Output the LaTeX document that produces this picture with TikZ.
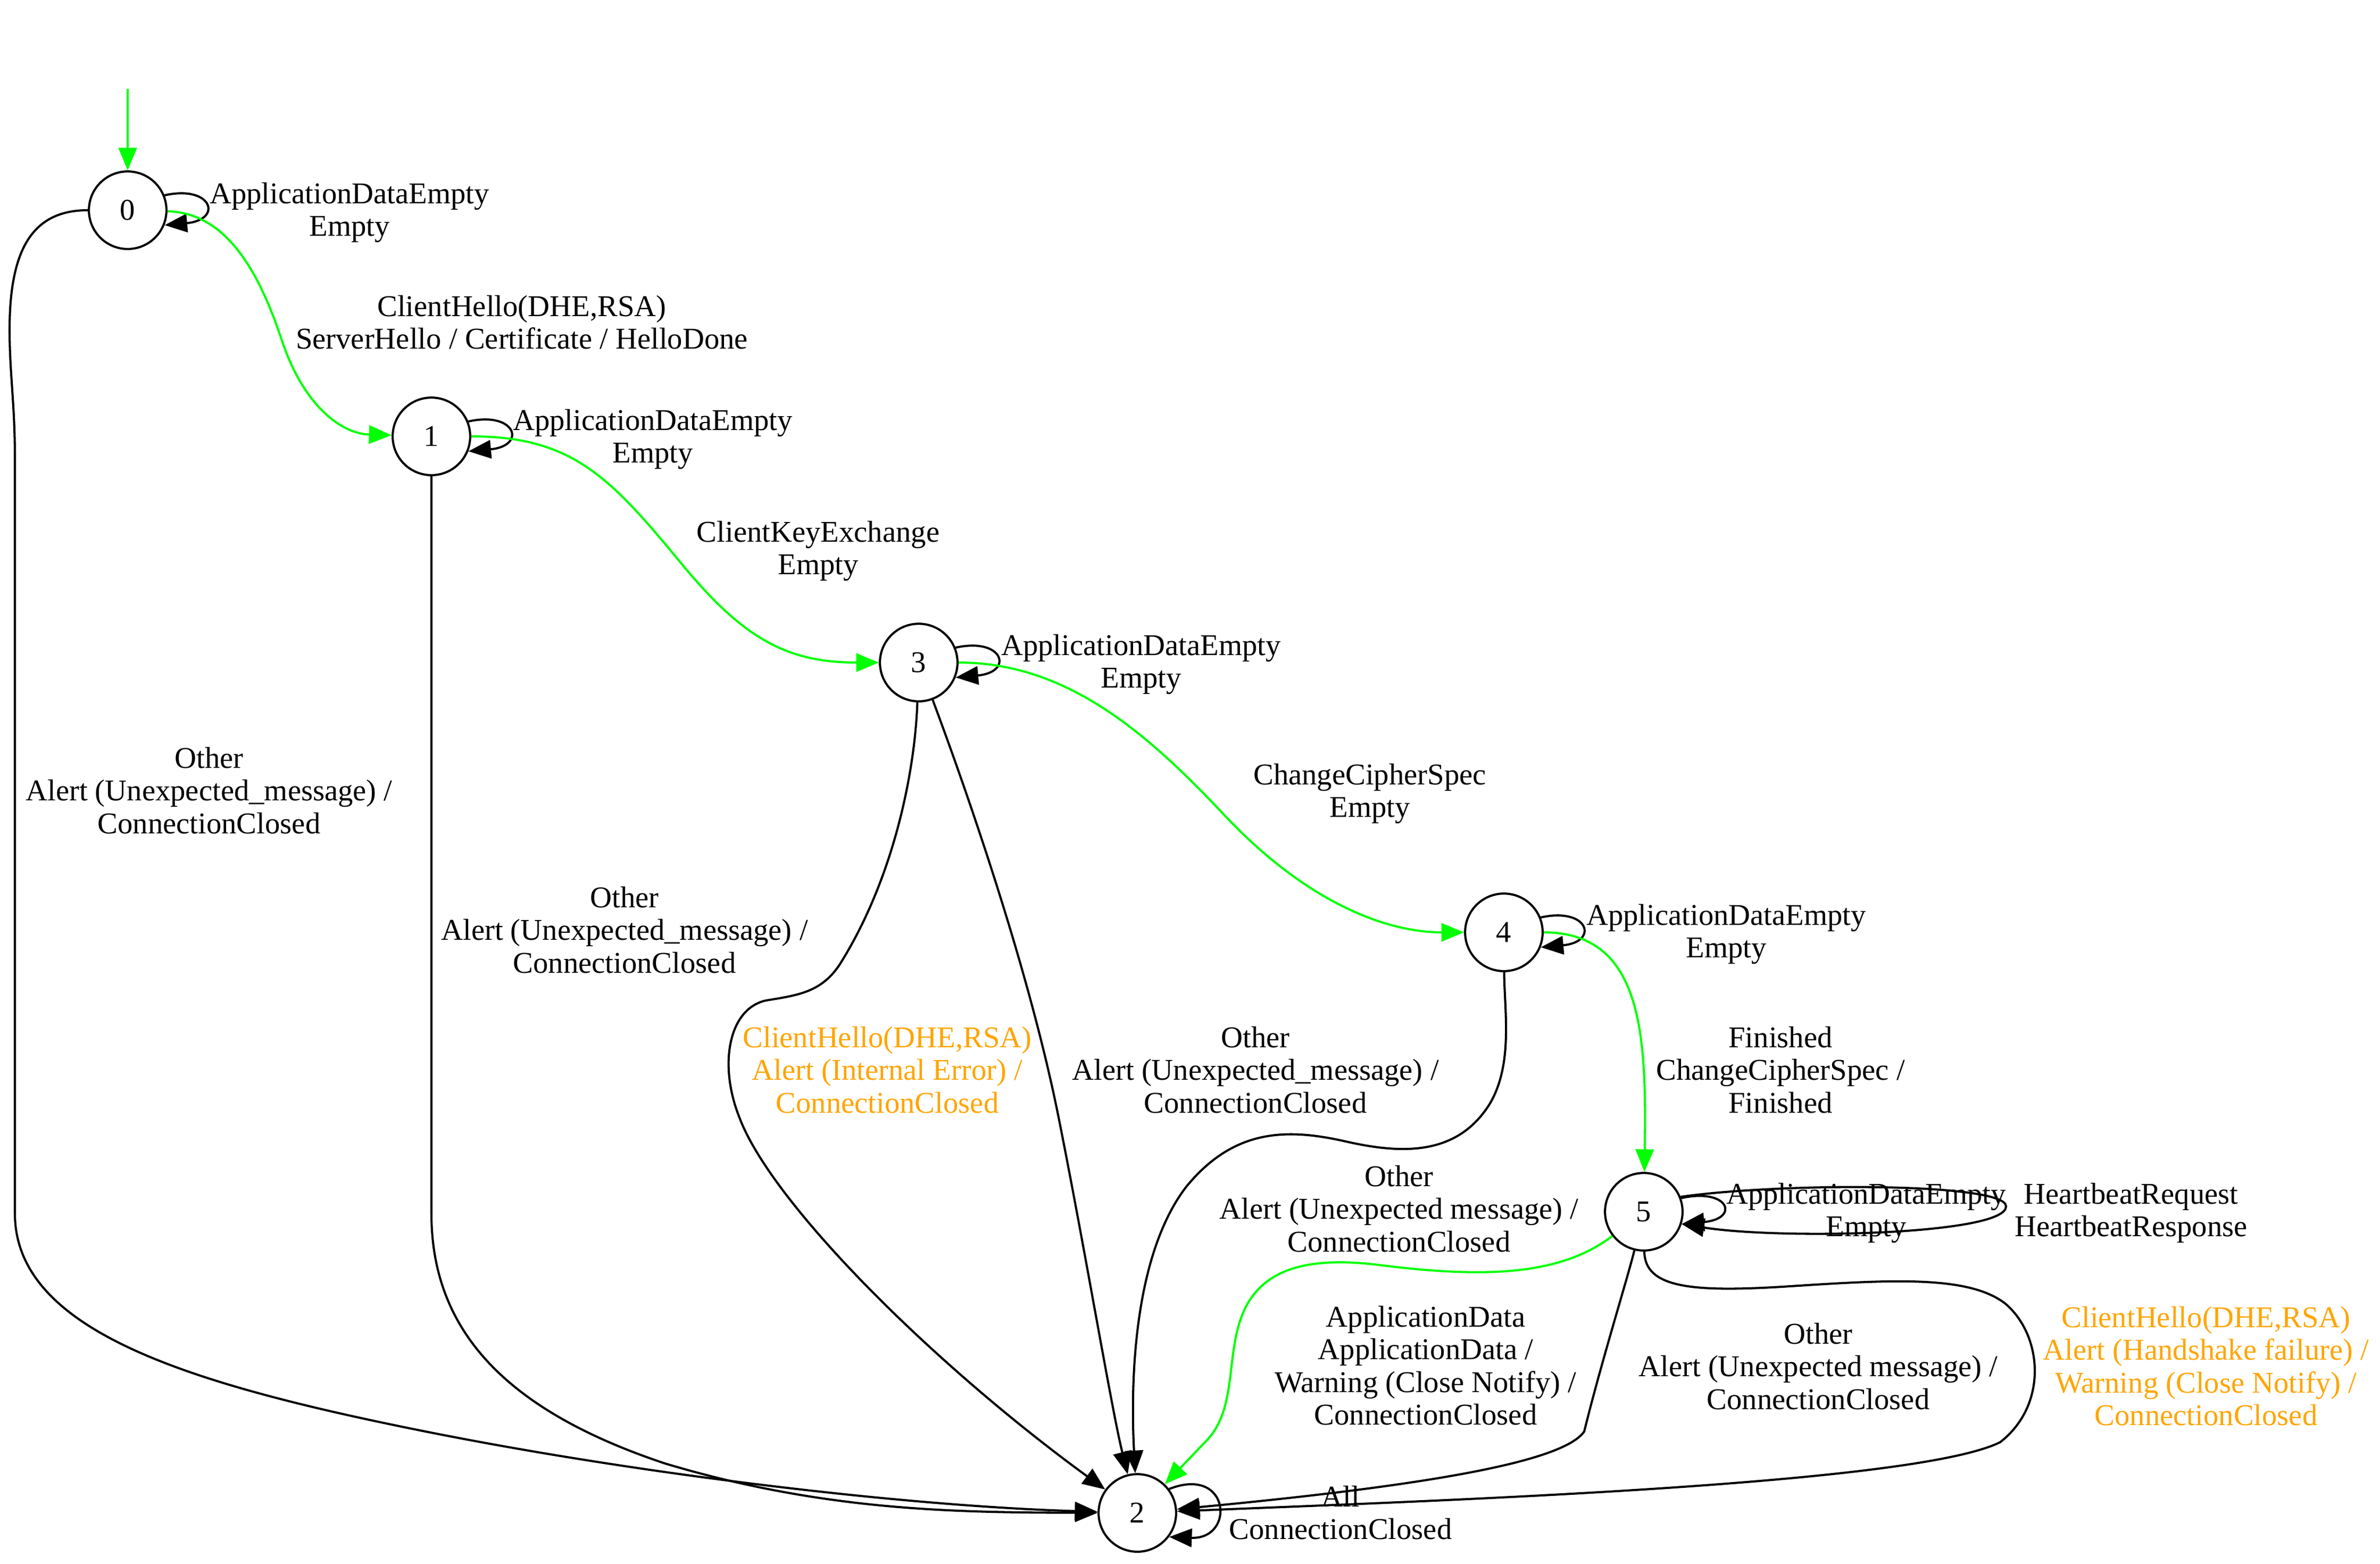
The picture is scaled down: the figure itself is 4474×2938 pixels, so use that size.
\documentclass[tikz,border=0pt]{standalone}
\usepackage{fontspec}
\setmainfont{Liberation Serif}
\usetikzlibrary{arrows.meta}
\definecolor{gvgreen}{RGB}{0,255,0}
\definecolor{gvorange}{RGB}{255,165,0}
\newcommand{\ml}[1]{\begin{tabular}[t]{@{}c@{}}#1\end{tabular}}
\begin{document}
\begin{tikzpicture}[x=0.247pt,y=-0.247pt,
  state/.style={circle,draw,line width=1pt,minimum size=36pt,inner sep=0pt,font=\fontsize{14}{15.2}\selectfont},
  tr/.style={draw,line width=1pt,-{Triangle[length=10.5pt,width=8.5pt]}},
  gtr/.style={tr,draw=gvgreen},
  lab/.style={inner sep=0pt,anchor=base,font=\fontsize{14}{15.2}\selectfont},
  olab/.style={lab,text=gvorange}]
\fill[white] (0,0) rectangle (4474,2938);
\useasboundingbox (0,0) rectangle (4474,2938);

% states
\node[state] (n0) at (240,395) {0};
\node[state] (n1) at (811,820) {1};
\node[state] (n3) at (1727,1245) {3};
\node[state] (n4) at (2827,1752) {4};
\node[state] (n5) at (3090,2277) {5};
\node[state] (n2) at (2138,2843) {2};
\coordinate (start) at (240,167);

% initial arrow
\draw[gtr] (start) -- (n0);

% self loops
\draw[tr] (n0.22) .. controls +(90,-20) and +(110,-10) .. (n0.-22);
\draw[tr] (n1.22) .. controls +(90,-20) and +(110,-10) .. (n1.-22);
\draw[tr] (n3.22) .. controls +(90,-20) and +(110,-10) .. (n3.-22);
\draw[tr] (n4.22) .. controls +(90,-20) and +(110,-10) .. (n4.-22);
\draw[tr] (n5.20) .. controls +(90,-20) and +(110,-10) .. (n5.-18);
\draw[tr] (n5.22) .. controls (3350,2222) and (3771,2222) .. (3771,2267)
                  .. controls (3771,2320) and (3350,2330) .. (n5.-18);
\draw[tr] (n2.37) .. controls +(115,-45) and +(125,5) .. (n2.-37);

% green handshake path
\draw[gtr] (n0) .. controls (430,400) and (490,520) .. (530,640)
               .. controls (570,760) and (640,815) .. (n1);
\draw[gtr] (n1) .. controls (1080,820) and (1150,900) .. (1290,1070)
               .. controls (1400,1200) and (1480,1245) .. (n3);
\draw[gtr] (n3) .. controls (2000,1245) and (2150,1370) .. (2300,1530)
               .. controls (2450,1690) and (2600,1752) .. (n4);
\draw[gtr] (n4) .. controls (3090,1752) and (3095,1950) .. (n5);
\draw[gtr] (n5) .. controls (2930,2400) and (2780,2400) .. (2600,2378)
               .. controls (2450,2358) and (2380,2390) .. (2345,2450)
               .. controls (2300,2530) and (2330,2640) .. (2270,2705) -- (n2);

% edges to state 2
\draw[tr] (n0) .. controls (60,395) and (18,470) .. (18,620)
              .. controls (18,700) and (28,760) .. (28,860) -- (28,2280)
              .. controls (28,2500) and (350,2600) .. (800,2690)
              .. controls (1200,2770) and (1700,2830) .. (n2);
\draw[tr] (n1) -- (811,2280)
              .. controls (811,2500) and (950,2650) .. (1250,2750)
              .. controls (1550,2840) and (1800,2842) .. (n2);
\draw[tr] (n3) .. controls (1720,1450) and (1680,1650) .. (1580,1810)
              .. controls (1545,1865) and (1500,1870) .. (1440,1880)
              .. controls (1370,1895) and (1350,2000) .. (1390,2100)
              .. controls (1450,2260) and (1750,2560) .. (n2);
\draw[tr] (n3) .. controls (1800,1440) and (1930,1800) .. (1990,2100)
              .. controls (2040,2350) and (2090,2650) .. (n2);
\draw[tr] (n4) .. controls (2828,1900) and (2845,2000) .. (2800,2075)
              .. controls (2740,2170) and (2640,2170) .. (2530,2145)
              .. controls (2420,2120) and (2320,2120) .. (2230,2230)
              .. controls (2130,2360) and (2125,2600) .. (n2);
\draw[tr] (n5) .. controls (3060,2400) and (3010,2560) .. (2978,2690)
              .. controls (2940,2745) and (2700,2790) .. (n2);
\draw[tr] (n5) .. controls (3092,2420) and (3180,2428) .. (3350,2418)
              .. controls (3550,2405) and (3700,2395) .. (3770,2450)
              .. controls (3840,2510) and (3850,2640) .. (3760,2710)
              .. controls (3600,2790) and (2700,2820) .. (n2);

% labels
\node[lab] (l0) at (657,382) {\ml{ApplicationDataEmpty\\Empty}};
\node[lab] (l01) at (981,594) {\ml{ClientHello(DHE,RSA)\\ServerHello / Certificate / HelloDone}};
\node[lab] (l1) at (1227,808) {\ml{ApplicationDataEmpty\\Empty}};
\node[lab] (l13) at (1538,1018) {\ml{ClientKeyExchange\\Empty}};
\node[lab] (l3) at (2145,1231) {\ml{ApplicationDataEmpty\\Empty}};
\node[lab] (l34) at (2575,1474) {\ml{ChangeCipherSpec\\Empty}};
\node[lab] (l4) at (3245,1738) {\ml{ApplicationDataEmpty\\Empty}};
\node[lab] (l45) at (3347,1968) {\ml{Finished\\ChangeCipherSpec /\\Finished}};
\node[lab] (l5a) at (3508,2262) {\ml{ApplicationDataEmpty\\Empty}};
\node[lab] (l5b) at (4006,2262) {\ml{HeartbeatRequest\\HeartbeatResponse}};
\node[lab] (l02) at (393,1443) {\ml{Other\\Alert (Unexpected\_message) /\\ConnectionClosed}};
\node[lab] (l12) at (1174,1705) {\ml{Other\\Alert (Unexpected\_message) /\\ConnectionClosed}};
\node[olab] (l32o) at (1668,1968) {\ml{ClientHello(DHE,RSA)\\Alert (Internal Error) /\\ConnectionClosed}};
\node[lab] (l32) at (2360,1968) {\ml{Other\\Alert (Unexpected\_message) /\\ConnectionClosed}};
\node[lab] (l42) at (2630,2229) {\ml{Other\\Alert (Unexpected message) /\\ConnectionClosed}};
\node[lab] (l52g) at (2680,2493) {\ml{ApplicationData\\ApplicationData /\\Warning (Close Notify) /\\ConnectionClosed}};
\node[lab] (l52) at (3418,2525) {\ml{Other\\Alert (Unexpected message) /\\ConnectionClosed}};
\node[olab] (l52o) at (4147,2494) {\ml{ClientHello(DHE,RSA)\\Alert (Handshake failure) /\\Warning (Close Notify) /\\ConnectionClosed}};
\node[lab] (l2) at (2520,2831) {\ml{All\\ConnectionClosed}};
\end{tikzpicture}
\end{document}
